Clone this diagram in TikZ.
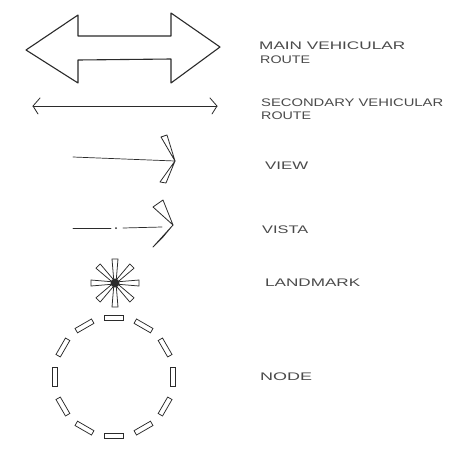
\documentclass[tikz,border=0pt]{standalone}
\usepackage{fontspec}
\setmainfont{Liberation Sans}
\usepackage{graphicx}
\usetikzlibrary{calc}
\definecolor{ink}{HTML}{2B2B2B}
\definecolor{pencil}{HTML}{4A4A4A}
\tikzset{
  sketch/.style={draw=ink, line width=1.1pt, line join=round, line cap=round},
  thin sketch/.style={draw=ink, line width=0.8pt, line join=round, line cap=round},
  wedge/.style={draw=ink, line width=0.8pt, line join=round},
  legendlabel/.style={anchor=base west, inner sep=0pt, text=pencil, font=\fontsize{11}{13}\selectfont},
  dashbox/.style={draw=ink, line width=0.75pt, minimum width=19pt, minimum height=5pt, inner sep=0pt, fill=white},
}
\newcommand{\handtext}[2]{\resizebox{#1}{\height}{#2}}
\begin{document}
\begin{tikzpicture}[x=1pt, y=-1pt]
\useasboundingbox (0,0) rectangle (450,453);
\fill[white] (0,0) rectangle (450,453);

% main vehicular route (big double arrow)
\draw[sketch] (26,50) -- (78,15) -- (78,36) -- (171,36) -- (171,13) -- (220,47)
  -- (171,83) -- (171,59) -- (78,60) -- (78,83) -- cycle;

% secondary vehicular route
\coordinate (secL) at (33,106);
\coordinate (secR) at (217,106);
\draw[thin sketch] (secL) -- (secR);
\draw[thin sketch] (40,98) -- (secL) -- (38,114);
\draw[thin sketch] (210,98) -- (secR) -- (212,114);

% view
\coordinate (viewS) at (73,157);
\coordinate (viewT) at (175,161);
\draw[thin sketch, line width=0.7pt] (viewS) -- (viewT);
\draw[wedge] (viewT) -- (161,137) -- (167,135) -- cycle;
\draw[wedge] (viewT) -- (160,182) -- (166,183) -- cycle;

% vista
\coordinate (vistaS) at (73,228);
\coordinate (vistaT) at (173,225);
\draw[thin sketch, line width=0.7pt] (73,228) -- (111,228);
\fill[ink] (116,228) circle (1pt);
\draw[thin sketch, line width=0.7pt] (123,228) -- (162,227);
\draw[wedge] (vistaT) -- (153,207) -- (163,200) -- cycle;
\draw[wedge] (vistaT) -- (153,247) -- (163,237) -- cycle;

% landmark
\coordinate (lm) at (115,283);
\foreach \a in {0,45,...,315}{
  \draw[wedge, line width=0.75pt, fill=white, rotate around={\a:(lm)}]
    (114,283) -- (112,259) -- (118,259) -- (116,283) -- cycle;
}
\fill[ink] (lm) circle (4.5pt);

% node (dashed circle)
\coordinate (nd) at (114,377);
\foreach \a in {90,120,...,420}{
  \node[dashbox, rotate=90-\a] at ($(nd)+(\a:59)$) {};
}

% labels
\node[legendlabel] (lmain1) at (259,49) {\handtext{146pt}{MAIN VEHICULAR}};
\node[legendlabel] (lmain2) at (260,63) {\handtext{50pt}{ROUTE}};
\node[legendlabel] (lsec1) at (261,106) {\handtext{182pt}{SECONDARY VEHICULAR}};
\node[legendlabel] (lsec2) at (261,119) {\handtext{50pt}{ROUTE}};
\node[legendlabel] (lview) at (265,169) {\handtext{43pt}{VIEW}};
\node[legendlabel] (lvista) at (262,233) {\handtext{46pt}{VISTA}};
\node[legendlabel] (lland) at (265,286) {\handtext{95pt}{LANDMARK}};
\node[legendlabel] (lnode) at (260,380) {\handtext{52pt}{NODE}};
\end{tikzpicture}
\end{document}
